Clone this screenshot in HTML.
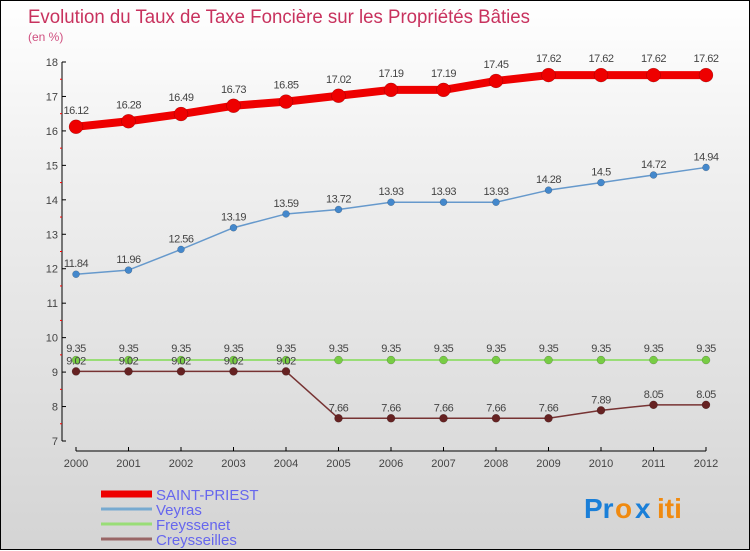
<!DOCTYPE html>
<html><head><meta charset="utf-8">
<style>
html,body{margin:0;padding:0;}
body{width:750px;height:550px;overflow:hidden;font-family:"Liberation Sans",sans-serif;}
#wrap{position:relative;width:748px;height:548px;border:1px solid #000;background:linear-gradient(#ffffff 0%,#f0f0f0 30%,#d4d4d4 100%);}
svg{position:absolute;left:0;top:0;}
</style></head><body>
<div id="wrap">
<svg id="chart" width="750" height="550">
<text x="27" y="22" font-size="19" fill="#c8325e" textLength="502" lengthAdjust="spacingAndGlyphs">Evolution du Taux de Taxe Foncière sur les Propriétés Bâties</text>
<text x="27" y="40" font-size="12" fill="#d05080">(en %)</text>
<g font-size="28" font-weight="bold">
<text x="583" y="517" fill="#1a7fd8">Pr</text>
<text x="614" y="517" fill="#f08a10">o</text>
<text x="634" y="517" fill="#1a7fd8">x</text>
<text x="656" y="517" fill="#f08a10">iti</text>
</g>
</svg>
</div>
<script>
const years=[2000,2001,2002,2003,2004,2005,2006,2007,2008,2009,2010,2011,2012];
const saintPriest=[16.12,16.28,16.49,16.73,16.85,17.02,17.19,17.19,17.45,17.62,17.62,17.62,17.62];
const veyras=[11.84,11.96,12.56,13.19,13.59,13.72,13.93,13.93,13.93,14.28,14.5,14.72,14.94];
const freyssenet=[9.35,9.35,9.35,9.35,9.35,9.35,9.35,9.35,9.35,9.35,9.35,9.35,9.35];
const creysseilles=[9.02,9.02,9.02,9.02,9.02,7.66,7.66,7.66,7.66,7.66,7.89,8.05,8.05];
const yTicks=[7,8,9,10,11,12,13,14,15,16,17,18];
const seriesNames=["SAINT-PRIEST","Veyras","Freyssenet","Creysseilles"];

const NS="http://www.w3.org/2000/svg";
const svg=document.getElementById('chart');
const X=i=>75+i*(705-75)/(years.length-1);
const Y=v=>440-(v-7)*(440-61)/11;
function mk(tag,attrs,parent){const e=document.createElementNS(NS,tag);for(const k in attrs)e.setAttribute(k,attrs[k]);(parent||svg).appendChild(e);return e;}

// y axis
const yAxis=mk('g',{});


mk('line',{x1:61,y1:Y(18),x2:61,y2:Y(7),stroke:'#000','stroke-width':1},yAxis);
yTicks.forEach(t=>{
  mk('line',{x1:61,y1:Y(t),x2:65,y2:Y(t),stroke:'#000'},yAxis);
  if(t<18) mk('line',{x1:59,y1:Y(t+0.5),x2:61,y2:Y(t+0.5),stroke:'#f00'},yAxis);
  const tx=mk('text',{x:57,y:Y(t)+4,'font-size':11,fill:'#444','text-anchor':'end'},yAxis);
  tx.textContent=t;
  
  
});
// x axis
const xAxis=mk('g',{});


mk('line',{x1:X(0),y1:450,x2:X(years.length-1),y2:450,stroke:'#000'},xAxis);
years.forEach((y,i)=>{
  mk('line',{x1:X(i),y1:446,x2:X(i),y2:450,stroke:'#000'},xAxis);
  const tx=mk('text',{x:X(i),y:466,'font-size':11,fill:'#444','text-anchor':'middle'},xAxis);
  tx.textContent=y;
  
  
});

function series(vals,color,lw,r,dotFill,name,labelDy){
  const g=mk('g',{});
  
  
  mk('polyline',{points:vals.map((v,i)=>X(i)+','+Y(v)).join(' '),fill:'none',stroke:color,'stroke-width':lw,'stroke-linejoin':'round'},g);
  vals.forEach((v,i)=>{
    const c=mk('circle',{cx:X(i),cy:Y(v),r:r,fill:dotFill,stroke:'rgba(0,0,0,0.3)','stroke-width':0.5},g);
    
    
    const t=mk('text',{x:X(i),y:Y(v)+labelDy,'font-size':11,fill:'#444','text-anchor':'middle','letter-spacing':'-0.5'},g);
    t.textContent=v;
    
    
  });
}
series(freyssenet,'#99dd77',2,4,'#77cc44','freyssenet-series',-8);
series(creysseilles,'#773333',1.5,4,'#662222','creysseilles-series',-7);
series(veyras,'#6699cc',1.5,3.5,'#4488cc','veyras-series',-7);
series(saintPriest,'#ee0000',8,7,'#ee0000','saint-priest-series',-13);

// legend
const legColors=['#ee0000','#77aad0','#99dd77','#996666'];
const legW=[7,3,3,3];
seriesNames.forEach((n,i)=>{
  const g=mk('g',{});
  
  
  const yy=493+i*15;
  mk('line',{x1:100,y1:yy,x2:151,y2:yy,stroke:legColors[i],'stroke-width':legW[i]},g);
  const t=mk('text',{x:155,y:yy+6,'font-size':15,fill:'#6666ee'},g);
  t.textContent=n;
});
</script>
</body></html>
